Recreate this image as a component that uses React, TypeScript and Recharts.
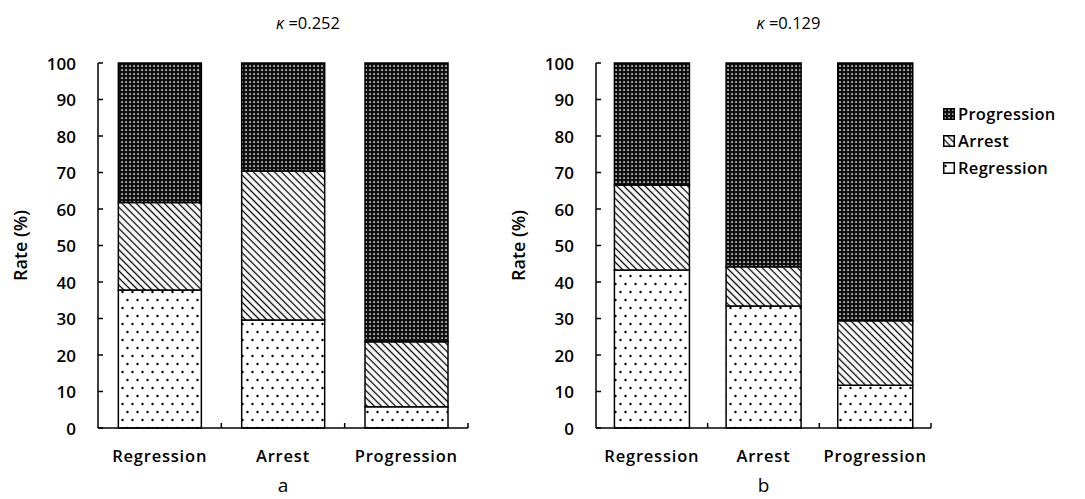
import React from 'react';
import { BarChart, Bar, XAxis, YAxis, Label } from 'recharts';

// categories on the x axis (and stack series names)
const categories = ['Regression', 'Arrest', 'Progression'];

// panel a (κ = 0.252), percentages per category
const regressionA = [37.8, 29.6, 5.8];
const arrestA = [24.0, 40.8, 17.8];
const progressionA = [38.2, 29.6, 76.4];

// panel b (κ = 0.129)
const regressionB = [43.3, 33.4, 11.7];
const arrestB = [23.3, 10.8, 17.7];
const progressionB = [33.4, 55.8, 70.6];

const yTicks = [0, 10, 20, 30, 40, 50, 60, 70, 80, 90, 100];

const FONT = '"Open Sans", "DejaVu Sans", sans-serif';
const WEIGHT = 600;
const CHART_H = 499;
const PLOT_TOP = 63;
const PLOT_BOTTOM = 428;
const AXIS_X = 98;

const buildRows = (reg: number[], arr: number[], prog: number[]) =>
  categories.map((name, i) => ({ name, regression: reg[i], arrest: arr[i], progression: prog[i] }));

const dataA = buildRows(regressionA, arrestA, progressionA);
const dataB = buildRows(regressionB, arrestB, progressionB);

const fills: Record<string, string> = {
  regression: 'url(#pat-dots)',
  arrest: 'url(#pat-hatch)',
  progression: 'url(#pat-dense)',
};

function Patterns() {
  return (
    <svg width={0} height={0} style={{ position: 'absolute' }}>
      <defs>
        <pattern id="pat-dots" patternUnits="userSpaceOnUse" width={10} height={16}>
          <rect width={10} height={16} fill="#fff" />
          <circle cx={2.5} cy={4} r={1.2} fill="#000" />
          <circle cx={7.5} cy={12} r={1.2} fill="#000" />
        </pattern>
        <pattern id="pat-hatch" patternUnits="userSpaceOnUse" width={5} height={5} patternTransform="rotate(45)">
          <rect width={5} height={5} fill="#fff" />
          <line x1={0} y1={2.5} x2={5} y2={2.5} stroke="#000" strokeWidth={1.3} />
        </pattern>
        <pattern id="pat-dense" patternUnits="userSpaceOnUse" width={4} height={4}>
          <rect width={4} height={4} fill="#111" />
          <rect x={1.3} y={1.3} width={1.5} height={1.5} fill="#fff" />
        </pattern>
      </defs>
    </svg>
  );
}

function ValueTick(props: any) {
  const { y, payload } = props;
  return (
    <g>
      <line x1={AXIS_X} x2={AXIS_X + 5} y1={y} y2={y} stroke="#000" strokeWidth={1.5} />
      <text x={AXIS_X - 22} y={y} textAnchor="end" dominantBaseline="central"
        fontFamily={FONT} fontWeight={WEIGHT} fontSize={17} fill="#000">
        {payload.value}
      </text>
    </g>
  );
}

function CategoryTick(props: any) {
  const { x, payload, band } = props;
  const edge = x + band / 2;
  return (
    <g>
      <line x1={edge} x2={edge} y1={PLOT_BOTTOM} y2={PLOT_BOTTOM - 5} stroke="#000" strokeWidth={1.5} />
      <text x={x} y={455} textAnchor="middle" dominantBaseline="central"
        fontFamily={FONT} fontWeight={WEIGHT} fontSize={16.5} fill="#000" style={{ letterSpacing: 0.8 }}>
        {payload.value}
      </text>
    </g>
  );
}

interface PanelProps {
  left: number;
  width: number;
  data: typeof dataA;
  title: string;
  letter: string;
}

function Panel({ left, width, data, title, letter }: PanelProps) {
  const plotW = width - AXIS_X - 12;
  const band = plotW / categories.length;
  return (
    <div style={{ position: 'absolute', left, top: 0 }}>
      <div style={{
        position: 'absolute', left: AXIS_X + plotW / 2 + 25, top: 11, transform: 'translateX(-50%)',
        fontFamily: FONT, fontWeight: 500, fontSize: 16.5, whiteSpace: 'nowrap', color: '#000',
      }}>
        <i>κ</i> =0.{title}
      </div>
      <BarChart
        width={width}
        height={CHART_H}
        data={data}
        margin={{ top: PLOT_TOP, right: 12, bottom: 0, left: 0 }}
        barCategoryGap="16.5%"
      >
        <XAxis
          dataKey="name"
          height={CHART_H - PLOT_BOTTOM}
          interval={0}
          axisLine={{ stroke: '#000', strokeWidth: 1.5 }}
          tickLine={false}
          tick={(p: any) => <CategoryTick {...p} band={band} />}
        >
          <Label
            content={({ viewBox }: any) => (
              <text x={viewBox.x + viewBox.width / 2} y={492} textAnchor="middle"
                fontFamily={FONT} fontWeight={500} fontSize={19} fill="#000">
                {letter}
              </text>
            )}
          />
        </XAxis>
        <YAxis
          width={AXIS_X}
          domain={[0, 100]}
          ticks={yTicks}
          interval={0}
          axisLine={{ stroke: '#000', strokeWidth: 1.5 }}
          tickLine={false}
          tick={(p: any) => <ValueTick {...p} />}
        >
          <Label
            content={({ viewBox }: any) => {
              const cx = viewBox.x + 20;
              const cy = viewBox.y + viewBox.height / 2;
              return (
                <text x={cx} y={cy} transform={`rotate(-90 ${cx} ${cy})`} textAnchor="middle"
                  dominantBaseline="central" fontFamily={FONT} fontWeight={WEIGHT} fontSize={18} fill="#000">
                  Rate (%)
                </text>
              );
            }}
          />
        </YAxis>
        {['regression', 'arrest', 'progression'].map((key) => (
          <Bar key={key} dataKey={key} stackId="s" fill={fills[key]} stroke="#000"
            strokeWidth={1.5} isAnimationActive={false} />
        ))}
      </BarChart>
    </div>
  );
}

function LegendBox() {
  const items = [
    { key: 'progression', label: 'Progression' },
    { key: 'arrest', label: 'Arrest' },
    { key: 'regression', label: 'Regression' },
  ];
  return (
    <div style={{
      position: 'absolute', left: 943, top: 100, fontFamily: FONT, fontWeight: WEIGHT,
      fontSize: 16.5, color: '#000',
    }}>
      {items.map((it) => (
        <div key={it.key} style={{ display: 'flex', alignItems: 'center', height: 27 }}>
          <svg width={12} height={12} style={{ marginRight: 3 }}>
            <rect x={0.75} y={0.75} width={10.5} height={10.5} fill={fills[it.key]} stroke="#000" strokeWidth={1.5} />
          </svg>
          <span style={{ letterSpacing: 0.3 }}>{it.label}</span>
        </div>
      ))}
    </div>
  );
}

export default function App() {
  return (
    <div style={{ position: 'absolute', left: 0, top: 0, width: 1085, height: 499, background: '#fff' }}>
      <Patterns />
      <Panel left={0} width={480} data={dataA} title="252" letter="a" />
      <Panel left={498} width={445} data={dataB} title="129" letter="b" />
      <LegendBox />
    </div>
  );
}
